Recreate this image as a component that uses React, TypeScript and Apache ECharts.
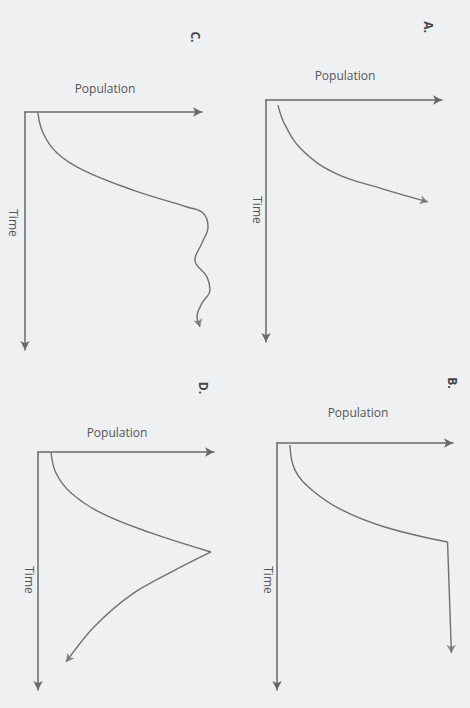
import React, { useEffect, useRef } from "react";
import * as echarts from "echarts";

// Panel letters and axis titles
const panelLetters = ["A.", "B.", "C.", "D."];
const xTitle = "Population";
const yTitle = "Time";

// Curves as [population, time] (0-100 scale on each axis)
const curveA: [number, number][] = [
  [6.8, 2.1], [10.8, 10.3], [20.5, 20.7], [39.2, 30.2], [64.8, 36.4], [92.0, 42.1],
];
const curveB: [number, number][] = [
  [7.4, 0.8], [10.2, 10.9], [19.9, 19.0], [36.9, 27.1], [61.4, 34.0], [97.2, 40.1],
];
const dropB: [number, number][] = [
  [97.2, 40.1], [99.4, 85.0],
];
const curveC: [number, number][] = [
  [7.3, 0.4], [10.2, 8.8], [18.1, 17.2], [32.8, 24.4], [61.0, 32.8], [91.5, 39.9],
  [100.6, 42.4], [103.4, 48.3], [100.0, 55.0], [96.0, 62.2], [102.8, 69.3],
  [104.5, 74.8], [100.0, 80.3], [97.2, 86.1], [98.9, 90.3],
];
const riseD: [number, number][] = [
  [7.4, 0.0], [10.2, 8.8], [18.8, 17.2], [35.8, 25.6], [64.2, 34.0], [98.3, 42.0],
];
const fallD: [number, number][] = [
  [98.3, 42.0], [81.3, 48.3], [54.5, 59.2], [31.8, 73.5], [15.9, 88.2],
];

// Layout (pixels): grid boxes for A, B, C, D
const grids = [
  { left: 266, top: 100, width: 176, height: 242 }, // A
  { left: 277, top: 443, width: 176, height: 247 }, // B
  { left: 25, top: 112, width: 177, height: 238 },  // C
  { left: 38, top: 452, width: 176, height: 238 },  // D
];
// Plot areas for the curves: same scale as the visible axes, with room past the arrow tip
const PLOT_MAX = 110;
const popTitlePos = [[345, 75], [358, 412], [105, 88], [117, 432]];
const timeTitlePos = [[257, 210], [268, 580], [13, 223], [29, 580]];
const letterPos = [[428, 27], [452, 383], [195, 37], [203, 388]];

const LINE = "#6f7072";
const AXIS = "#67686a";
const TEXT = "#555657";
const FONT = "'Open Sans', 'DejaVu Sans', sans-serif";

function arrowRotate(pts: [number, number][], g: { width: number; height: number }) {
  const a = pts[pts.length - 2];
  const b = pts[pts.length - 1];
  const dx = ((b[0] - a[0]) * g.width) / 100;
  const dy = ((b[1] - a[1]) * g.height) / 100;
  return (Math.atan2(-dx, -dy) * 180) / Math.PI;
}

export default function App() {
  const ref = useRef<HTMLDivElement>(null);
  useEffect(() => {
    if (!ref.current) return;
    const chart = echarts.init(ref.current, undefined, { renderer: "svg" });

    const plotGrids = grids.map((g) => ({
      left: g.left,
      top: g.top,
      width: (g.width * PLOT_MAX) / 100,
      height: g.height,
    }));
    const allGrids = [...grids, ...plotGrids];

    const hidden = {
      axisLine: { show: false },
      axisTick: { show: false },
      axisLabel: { show: false },
      splitLine: { show: false },
    };
    const axisLine = (sym: string[]) => ({
      show: true,
      onZero: false,
      symbol: sym,
      symbolSize: [7, 9],
      lineStyle: { color: AXIS, width: 1.5 },
    });

    const xAxis = [
      ...grids.map((_, i) => ({
        type: "value",
        gridIndex: i,
        position: "top",
        min: 0,
        max: 100,
        axisLine: axisLine(["none", "arrow"]),
        axisTick: { show: false },
        axisLabel: { show: false },
        splitLine: { show: false },
      })),
      ...grids.map((_, i) => ({
        type: "value",
        gridIndex: i + 4,
        position: "top",
        min: 0,
        max: PLOT_MAX,
        ...hidden,
      })),
    ];
    const yAxis = [
      ...grids.map((_, i) => ({
        type: "value",
        gridIndex: i,
        position: "left",
        inverse: true,
        min: 0,
        max: 100,
        axisLine: axisLine(["arrow", "none"]),
        axisTick: { show: false },
        axisLabel: { show: false },
        splitLine: { show: false },
      })),
      ...grids.map((_, i) => ({
        type: "value",
        gridIndex: i + 4,
        position: "left",
        inverse: true,
        min: 0,
        max: 100,
        ...hidden,
      })),
    ];

    const lineSeries = (data: [number, number][], idx: number, smooth: number) => ({
      type: "line",
      xAxisIndex: idx + 4,
      yAxisIndex: idx + 4,
      data,
      smooth,
      clip: false,
      symbol: "none",
      lineStyle: { color: LINE, width: 1.4 },
    });
    const arrowSeries = (pts: [number, number][], idx: number) => ({
      type: "scatter",
      xAxisIndex: idx + 4,
      yAxisIndex: idx + 4,
      clip: false,
      data: [pts[pts.length - 1]],
      symbol: "arrow",
      symbolSize: [7, 8],
      symbolRotate: arrowRotate(pts, grids[idx]),
      itemStyle: { color: LINE },
    });

    const series = [
      lineSeries(curveA, 0, 0.4),
      arrowSeries(curveA, 0),
      lineSeries(curveB, 1, 0.4),
      lineSeries(dropB, 1, 0),
      arrowSeries(dropB, 1),
      lineSeries(curveC, 2, 0.4),
      arrowSeries(curveC, 2),
      lineSeries(riseD, 3, 0.4),
      lineSeries(fallD, 3, 0.3),
      arrowSeries(fallD, 3),
    ];

    const graphic: any[] = [];
    for (let i = 0; i < 4; i++) {
      graphic.push({
        type: "text",
        x: popTitlePos[i][0],
        y: popTitlePos[i][1],
        style: {
          text: xTitle,
          font: `12px ${FONT}`,
          fill: TEXT,
          align: "center",
          verticalAlign: "middle",
        },
      });
      graphic.push({
        type: "text",
        x: timeTitlePos[i][0],
        y: timeTitlePos[i][1],
        rotation: -Math.PI / 2,
        style: {
          text: yTitle,
          font: `12px ${FONT}`,
          fill: TEXT,
          align: "center",
          verticalAlign: "middle",
        },
      });
      graphic.push({
        type: "text",
        x: letterPos[i][0],
        y: letterPos[i][1],
        rotation: -Math.PI / 2,
        style: {
          text: panelLetters[i],
          font: `bold 12px ${FONT}`,
          fill: "#444546",
          align: "center",
          verticalAlign: "middle",
        },
      });
    }

    chart.setOption({
      animation: false,
      backgroundColor: "#eff0f1",
      grid: allGrids.map((g) => ({ ...g, containLabel: false })),
      xAxis,
      yAxis,
      series,
      graphic,
    });
    return () => chart.dispose();
  }, []);

  return (
    <div
      ref={ref}
      style={{ position: "fixed", left: 0, top: 0, width: 470, height: 708 }}
    />
  );
}
